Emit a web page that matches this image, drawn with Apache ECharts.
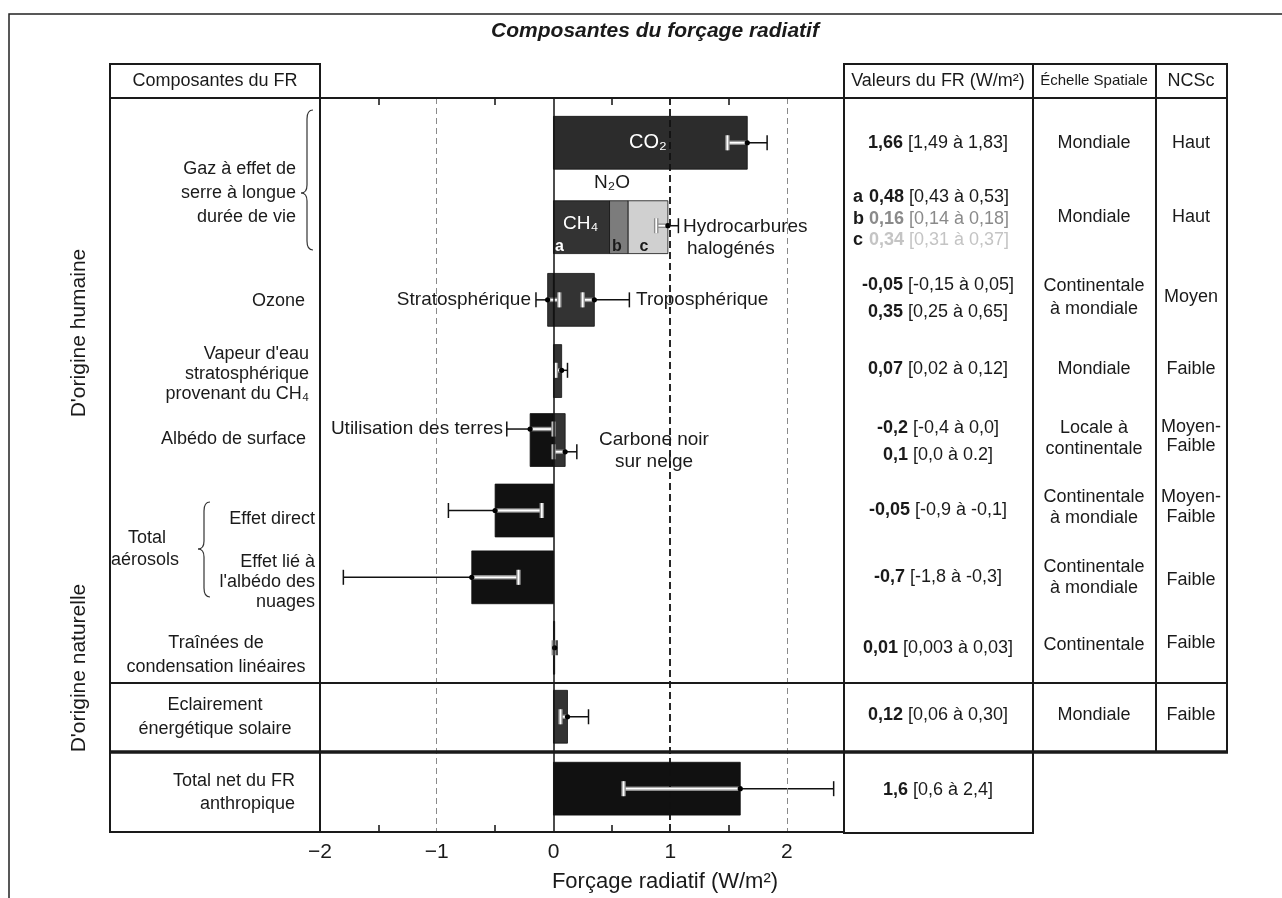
<!DOCTYPE html>
<html>
<head>
<meta charset="utf-8">
<title>Composantes du forçage radiatif</title>
<script src="https://cdn.jsdelivr.net/npm/echarts@6/dist/echarts.min.js"></script>
<style>
  html, body { margin: 0; padding: 0; background: #fff; }
  #chart { width: 1282px; height: 898px; }
</style>
</head>
<body>
<div id="chart"></div>
<script>
// position of each row on the (inverted) y axis, 0 = top of the plot, 10 = bottom
const rowY = [0.61, 1.76, 2.75, 3.72, 4.66, 5.62, 6.53, 7.49, 8.43, 9.41];

// bars (W/m2): start, end, row
const barStart = [0, 0, 0.48, 0.64, -0.05, 0, 0, -0.2, 0, -0.5, -0.7, 0, 0, 0];
const barEnd   = [1.66, 0.48, 0.64, 0.98, 0, 0.35, 0.07, 0, 0.1, 0, 0, 0.01, 0.12, 1.6];
const barRow   = [0, 1, 1, 1, 2, 2, 3, 4, 4, 5, 6, 7, 8, 9];

// uncertainty ranges (W/m2)
const errLow  = [1.49, 0.88, -0.15, 0.25, 0.02, -0.4, 0.0, -0.9, -1.8, 0.003, 0.06, 0.6];
const errMid  = [1.66, 0.98, -0.05, 0.35, 0.07, -0.2, 0.1, -0.5, -0.7, 0.01, 0.12, 1.6];
const errHigh = [1.83, 1.07, 0.05, 0.65, 0.12, 0.0, 0.2, -0.1, -0.3, 0.03, 0.30, 2.4];
const errRow  = [0, 1, 2, 2, 3, 4, 4, 5, 6, 7, 8, 9];
const errY    = [0.61, 1.74, 2.75, 2.75, 3.71, 4.51, 4.82, 5.62, 6.53, 7.49, 8.43, 9.41];

// axis
const tickLabels = [-2, -1, 0, 1, 2];
const minorTicks = [-1.5, -0.5, 0.5, 1.5];
const refLines = [-1, 0, 1, 2];

const barColors = ['#2c2c2c', '#333333', '#7c7c7c', '#d0d0d0', '#333333', '#333333', '#333333',
                   '#111111', '#333333', '#111111', '#111111', '#333333', '#333333', '#111111'];
const refStyles = [
  { color: '#8a8a8a', width: 1, type: [6, 4] },
  { color: '#111', width: 1.5, type: 'solid' },
  { color: '#111', width: 1.8, type: [7, 4] },
  { color: '#8a8a8a', width: 1, type: [6, 4] }
];

const FONT = '"Liberation Sans", Arial, Helvetica, sans-serif';
const BAR_H = 0.72;
const CAP = 7.5;

// extent of the bars in each row -> part of the whisker drawn on top of a bar
const rowLo = rowY.map((_, r) => Math.min(...barStart.filter((_, i) => barRow[i] === r)));
const rowHi = rowY.map((_, r) => Math.max(...barEnd.filter((_, i) => barRow[i] === r)));

const barData = barStart.map((s, i) => [s, barEnd[i], rowY[barRow[i]], i]);
const errData = errLow.map((lo, i) => {
  const r = errRow[i];
  return [lo, errMid[i], errHigh[i], errY[i], Math.max(lo, rowLo[r]), Math.min(errHigh[i], rowHi[r])];
});

function renderBar(params, api) {
  const y = api.value(2);
  const p0 = api.coord([api.value(0), y]);
  const p1 = api.coord([api.value(1), y]);
  const h = api.size([0, BAR_H])[1];
  return {
    type: 'rect',
    shape: { x: Math.min(p0[0], p1[0]), y: p0[1] - h / 2, width: Math.max(Math.abs(p1[0] - p0[0]), 1), height: h },
    style: { fill: barColors[api.value(3)], stroke: '#111', lineWidth: 0.8 }
  };
}

function renderErr(params, api) {
  const lo = api.value(0), mid = api.value(1), hi = api.value(2), y = api.value(3);
  const inLo = api.value(4), inHi = api.value(5);
  const hasIn = inHi > inLo;
  const X = v => api.coord([v, y])[0];
  const cy = api.coord([mid, y])[1];
  const kids = [];
  const black = { stroke: '#111', lineWidth: 1.5 };
  const seg = (a, b, st) => ({ type: 'line', shape: { x1: X(a), y1: cy, x2: X(b), y2: cy }, style: st });
  const cap = (v, st) => ({ type: 'line', shape: { x1: X(v), y1: cy - CAP, x2: X(v), y2: cy + CAP }, style: st });
  if (!hasIn) {
    kids.push(seg(lo, hi, black));
  } else {
    if (lo < inLo) kids.push(seg(lo, inLo, black));
    if (hi > inHi) kids.push(seg(inHi, hi, black));
    kids.push(seg(inLo, inHi, { stroke: '#8c8c8c', lineWidth: 4.5 }));
    kids.push(seg(inLo, inHi, { stroke: '#fff', lineWidth: 1.8 }));
  }
  [lo, hi].forEach(v => {
    const inside = hasIn && v >= inLo - 1e-9 && v <= inHi + 1e-9;
    if (inside) {
      kids.push(cap(v, { stroke: '#8c8c8c', lineWidth: 4.5 }));
      kids.push(cap(v, { stroke: '#fff', lineWidth: 1.8 }));
    } else {
      kids.push(cap(v, black));
    }
  });
  kids.push({ type: 'circle', shape: { cx: X(mid), cy: cy, r: 2.6 }, style: { fill: '#000' } });
  return { type: 'group', children: kids };
}

const chart = echarts.init(document.getElementById('chart'));

const axisCommon = {
  type: 'value', min: -2, max: 2.48,
  axisLine: { show: true, onZero: false, lineStyle: { color: '#111', width: 2 } },
  axisTick: { show: true, inside: true, length: 7, customValues: minorTicks, lineStyle: { color: '#111', width: 1.5 } },
  splitLine: { show: false }
};

chart.setOption({
  animation: false,
  textStyle: { fontFamily: FONT },
  grid: { left: 320, top: 98, width: 523, height: 734 },
  xAxis: [
    Object.assign({}, axisCommon, {
      position: 'bottom',
      axisLabel: {
        customValues: tickLabels, fontSize: 21, color: '#1a1a1a', margin: 10, fontFamily: FONT,
        formatter: v => String(v).replace('-', '\u2212')
      }
    }),
    Object.assign({}, axisCommon, { position: 'top', axisLabel: { show: false } })
  ],
  yAxis: { type: 'value', min: 0, max: 10, inverse: true, show: false },
  series: [
    {
      type: 'custom', name: 'bars', renderItem: renderBar, data: barData,
      encode: { x: [0, 1], y: 2 }, z: 2, silent: true
    },
    {
      type: 'line', name: 'ref', data: [], z: 3, silent: true,
      markLine: {
        silent: true, symbol: ['none', 'none'], label: { show: false },
        data: refLines.map((v, i) => ({ xAxis: v, lineStyle: refStyles[i] }))
      }
    },
    {
      type: 'custom', name: 'err', renderItem: renderErr, data: errData,
      encode: { x: [0, 1, 2], y: 3 }, z: 4, silent: true
    }
  ]
});

// ---- table, frame and labels ----
const G = [];
function line(x1, y1, x2, y2, w, c) {
  G.push({ type: 'line', silent: true, z: 6, shape: { x1, y1, x2, y2 }, style: { stroke: c || '#1a1a1a', lineWidth: w || 2 } });
}
function curve(x1, y1, cx, cy, x2, y2) {
  G.push({ type: 'bezierCurve', silent: true, z: 6, shape: { x1, y1, x2, y2, cpx1: cx, cpy1: cy }, style: { fill: 'none', stroke: '#333', lineWidth: 1.2 } });
}
function txt(x, y, text, o) {
  o = o || {};
  G.push({
    type: 'text', silent: true, z: 8, x, y, rotation: o.rotation || 0,
    style: {
      text, fill: o.fill || '#1a1a1a', fontFamily: FONT, fontSize: o.size || 18,
      fontWeight: o.weight || 'normal', fontStyle: o.italic ? 'italic' : 'normal',
      align: o.align || 'center', verticalAlign: 'middle', rich: o.rich
    }
  });
}

// outer frame
G.push({ type: 'rect', silent: true, z: 6, shape: { x: 9, y: 14, width: 1300, height: 1000 }, style: { fill: 'none', stroke: '#222', lineWidth: 1.5 } });

// table grid
line(110, 64, 110, 832);
line(320, 64, 320, 832);
line(844, 64, 844, 833);
line(1033, 64, 1033, 833);
line(1156, 64, 1156, 752);
line(1227, 64, 1227, 752);
line(109, 64, 321, 64);
line(843, 64, 1228, 64);
line(109, 98, 1228, 98);
line(109, 683, 1228, 683, 1.8);
line(109, 752, 1228, 752, 3.5);
line(109, 832, 845, 832);
line(843, 833, 1034, 833);

// braces "{" : right end top, tip on the left, right end bottom
function brace(xr, xl, y0, ym, y1) {
  const xm = (xr + xl) / 2;
  curve(xr, y0, xm, y0, xm, y0 + 9);
  line(xm, y0 + 9, xm, ym - 8, 1.2, '#333');
  curve(xm, ym - 8, xm, ym, xl, ym);
  curve(xl, ym, xm, ym, xm, ym + 8);
  line(xm, ym + 8, xm, y1 - 9, 1.2, '#333');
  curve(xm, y1 - 9, xm, y1, xr, y1);
}
brace(313, 301, 110, 193, 250);
brace(210, 198, 502, 549, 597);

// title
txt(655, 31, 'Composantes du forçage radiatif', { size: 21, weight: 'bold', italic: true });

// headers
txt(215, 81, 'Composantes du FR');
txt(938, 81, 'Valeurs du FR (W/m²)');
txt(1094, 81, 'Échelle Spatiale', { size: 15 });
txt(1191, 81, 'NCSc');

// side labels
txt(79, 333, "D'origine humaine", { size: 21, rotation: Math.PI / 2 });
txt(79, 668, "D'origine naturelle", { size: 21, rotation: Math.PI / 2 });

// left column
const R = 'right';
[
  ['Gaz à effet de', 296, 169, R], ['serre à longue', 296, 193, R], ['durée de vie', 296, 217, R],
  ['Ozone', 305, 301, R],
  ["Vapeur d'eau", 309, 354, R], ['stratosphérique', 309, 374, R], ['provenant du CH₄', 309, 394, R],
  ['Albédo de surface', 306, 439, R],
  ['Total', 147, 538], ['aérosols', 145, 560],
  ['Effet direct', 315, 519, R],
  ['Effet lié à', 315, 562, R], ["l'albédo des", 315, 582, R], ['nuages', 315, 602, R],
  ['Traînées de', 216, 643], ['condensation linéaires', 216, 667],
  ['Eclairement', 215, 705], ['énergétique solaire', 215, 729],
  ['Total net du FR', 295, 781, R], ['anthropique', 295, 804, R]
].forEach(t => txt(t[1], t[2], t[0], { align: t[3] || 'center' }));

// labels inside the plot
txt(648, 142, 'CO₂', { size: 20, fill: '#fff' });
txt(612, 183, 'N₂O', { size: 19 });
txt(563, 224, 'CH₄', { size: 19, fill: '#fff', align: 'left' });
txt(555, 247, 'a', { size: 16, fill: '#fff', weight: 'bold', align: 'left' });
txt(617, 247, 'b', { size: 16, weight: 'bold' });
txt(644, 247, 'c', { size: 16, weight: 'bold' });
txt(683, 227, 'Hydrocarbures', { size: 19, align: 'left' });
txt(687, 249, 'halogénés', { size: 19, align: 'left' });
txt(531, 300, 'Stratosphérique', { size: 19, align: 'right' });
txt(636, 300, 'Troposphérique', { size: 19, align: 'left' });
txt(503, 429, 'Utilisation des terres', { size: 19, align: 'right' });
txt(654, 440, 'Carbone noir', { size: 19 });
txt(654, 462, 'sur neige', { size: 19 });

// x axis title
txt(665, 882, 'Forçage radiatif (W/m²)', { size: 22 });

// values column
const boldRich = c => ({ b: { fontWeight: 'bold', fontSize: 18, fontFamily: FONT, fill: c, color: c } });
[
  ['{b|1,66} [1,49 à 1,83]', 143], ['{b|-0,05} [-0,15 à 0,05]', 285], ['{b|0,35} [0,25 à 0,65]', 312],
  ['{b|0,07} [0,02 à 0,12]', 369], ['{b|-0,2} [-0,4 à 0,0]', 428], ['{b|0,1} [0,0 à 0.2]', 455],
  ['{b|-0,05} [-0,9 à -0,1]', 510], ['{b|-0,7} [-1,8 à -0,3]', 577], ['{b|0,01} [0,003 à 0,03]', 648],
  ['{b|0,12} [0,06 à 0,30]', 715], ['{b|1,6} [0,6 à 2,4]', 790]
].forEach(t => txt(938, t[1], t[0], { rich: boldRich('#1a1a1a') }));
[['a', '{b|0,48} [0,43 à 0,53]', 197, '#1a1a1a'], ['b', '{b|0,16} [0,14 à 0,18]', 219, '#8a8a8a'], ['c', '{b|0,34} [0,31 à 0,37]', 240, '#c4c4c4']]
  .forEach(t => {
    txt(853, t[2], t[0], { weight: 'bold', align: 'left' });
    txt(869, t[2], t[1], { align: 'left', fill: t[3], rich: boldRich(t[3]) });
  });

// spatial scale column
[
  ['Mondiale', 143], ['Mondiale', 217], ['Continentale', 286], ['à mondiale', 309], ['Mondiale', 369],
  ['Locale à', 428], ['continentale', 449], ['Continentale', 497], ['à mondiale', 518],
  ['Continentale', 567], ['à mondiale', 588], ['Continentale', 645], ['Mondiale', 715]
].forEach(t => txt(1094, t[1], t[0]));

// level of scientific understanding column
[
  ['Haut', 143], ['Haut', 217], ['Moyen', 297], ['Faible', 369], ['Moyen-', 427], ['Faible', 446],
  ['Moyen-', 497], ['Faible', 517], ['Faible', 580], ['Faible', 643], ['Faible', 715]
].forEach(t => txt(1191, t[1], t[0]));

chart.setOption({ graphic: { elements: G } });
</script>
</body>
</html>
